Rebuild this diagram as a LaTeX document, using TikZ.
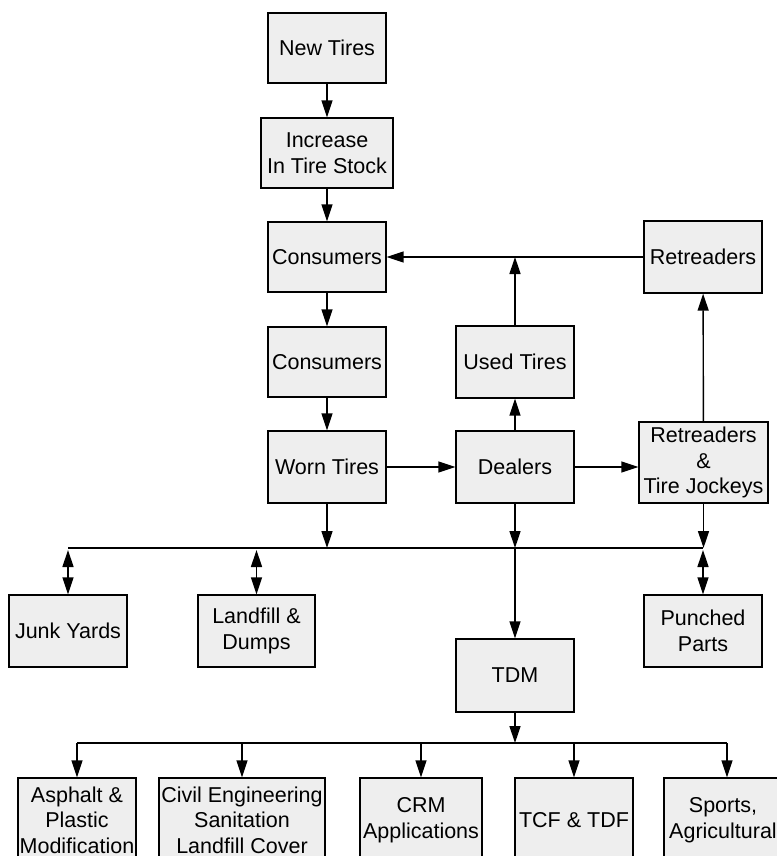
\documentclass[tikz,border=0pt]{standalone}
\usepackage{fontspec}
\setmainfont{Liberation Sans}
\usepackage{xcolor}
\definecolor{boxfill}{RGB}{238, 238, 238}
\usetikzlibrary{arrows.meta,calc}

\tikzset{
  flowbox/.style = {
    draw          = black,
    line width    = 1.3pt,
    fill          = boxfill,
    inner sep     = 1pt,
    align         = center,
    font          = \fontsize{21.5}{25.5}\selectfont
  },
  flowarrow/.style = {
    line width    = 1.4pt,
    -{Triangle[length=17pt,width=11pt]}
  },
  bothwayarrow/.style = {
    line width    = 1.4pt,
    {Triangle[length=17pt,width=11pt]}-{Triangle[length=17pt,width=11pt]}
  }
}

\begin{document}
\begin{tikzpicture}[x=1pt,y=-1pt]
  \useasboundingbox (0,0) rectangle (776,856);

  \node[flowbox, minimum width=118pt, minimum height=70pt] (newtires)   at (327,48)    {New Tires};
  \node[flowbox, minimum width=132pt, minimum height=70pt] (increase)   at (327,153)   {Increase\\In Tire Stock};
  \node[flowbox, minimum width=118pt, minimum height=70pt] (consumersA) at (327,257)   {Consumers};
  \node[flowbox, minimum width=118pt, minimum height=72pt] (retreaders) at (703,257)   {Retreaders};
  \node[flowbox, minimum width=118pt, minimum height=70pt] (consumersB) at (327,362)   {Consumers};
  \node[flowbox, minimum width=118pt, minimum height=72pt] (usedtires)  at (515,362)   {Used Tires};
  \node[flowbox, minimum width=118pt, minimum height=72pt] (worntires)  at (327,467)   {Worn Tires};
  \node[flowbox, minimum width=118pt, minimum height=72pt] (dealers)    at (515,467)   {Dealers};
  \node[flowbox, minimum width=129pt, minimum height=81pt] (jockeys)    at (703.5,462.5) {Retreaders\\\&\\Tire Jockeys};
  \node[flowbox, minimum width=118pt, minimum height=72pt] (junkyards)  at (68,631)    {Junk Yards};
  \node[flowbox, minimum width=117pt, minimum height=72pt] (landfill)   at (256.5,631) {Landfill \&\\Dumps};
  \node[flowbox, minimum width=118pt, minimum height=72pt] (punched)    at (703,631)   {Punched\\Parts};
  \node[flowbox, minimum width=118pt, minimum height=73pt] (tdm)        at (515,675.5) {TDM};
  \node[flowbox, minimum width=118pt, minimum height=84pt] (asphalt)    at (77,820)    {Asphalt \&\\Plastic\\Modification};
  \node[flowbox, minimum width=166pt, minimum height=84pt] (civil)      at (242,820)   {Civil Engineering\\Sanitation\\Landfill Cover};
  \node[flowbox, minimum width=122pt, minimum height=84pt] (crm)        at (421,820)   {CRM\\Applications};
  \node[flowbox, minimum width=118pt, minimum height=84pt] (tcf)        at (574,820)   {TCF \& TDF};
  \node[flowbox, minimum width=118pt, minimum height=84pt] (sports)     at (723,820)   {Sports,\\Agricultural};

  \coordinate (busleft)     at (68,548);
  \coordinate (busright)    at (703,548);
  \coordinate (lowbusleft)  at (asphalt.north |- 0,743);
  \coordinate (lowbusright) at (727,743);

  \draw[flowarrow] (newtires)   -- (increase);
  \draw[flowarrow] (increase)   -- (consumersA);
  \draw[flowarrow] (retreaders) -- (consumersA);
  \draw[flowarrow] (usedtires)  -- (usedtires |- consumersA);
  \draw[flowarrow] (consumersA) -- (consumersB);
  \draw[flowarrow] (consumersB) -- (worntires);
  \draw[flowarrow] (dealers)    -- (usedtires);
  \draw[flowarrow] (worntires)  -- (dealers);
  \draw[flowarrow] (dealers.east) -- (dealers.east -| jockeys.west);
  \draw[flowarrow] (jockeys)    -- (retreaders);

  \draw[line width=1.4pt] (busleft) -- (busright);
  \draw[flowarrow] (worntires.south) -- (worntires |- busleft);
  \draw[flowarrow] (dealers.south)   -- (dealers |- busleft);
  \draw[flowarrow] (dealers |- busleft) -- (tdm.north);
  \draw[flowarrow] (jockeys.south)   -- (jockeys |- busleft);
  \draw[bothwayarrow, shorten <=2pt] (junkyards |- busleft) -- (junkyards.north);
  \draw[bothwayarrow, shorten <=2pt] (landfill |- busleft)  -- (landfill.north);
  \draw[bothwayarrow, shorten <=2pt] (punched |- busleft)   -- (punched.north);

  \draw[flowarrow] (tdm.south) -- (tdm |- lowbusleft);
  \draw[line width=1.4pt] (lowbusleft) -- (lowbusright);
  \foreach \target in {asphalt, civil, crm, tcf}
    \draw[flowarrow] (\target.north |- lowbusleft) -- (\target.north);
  \draw[flowarrow] (lowbusright) -- (lowbusright |- sports.north);
\end{tikzpicture}
\end{document}
